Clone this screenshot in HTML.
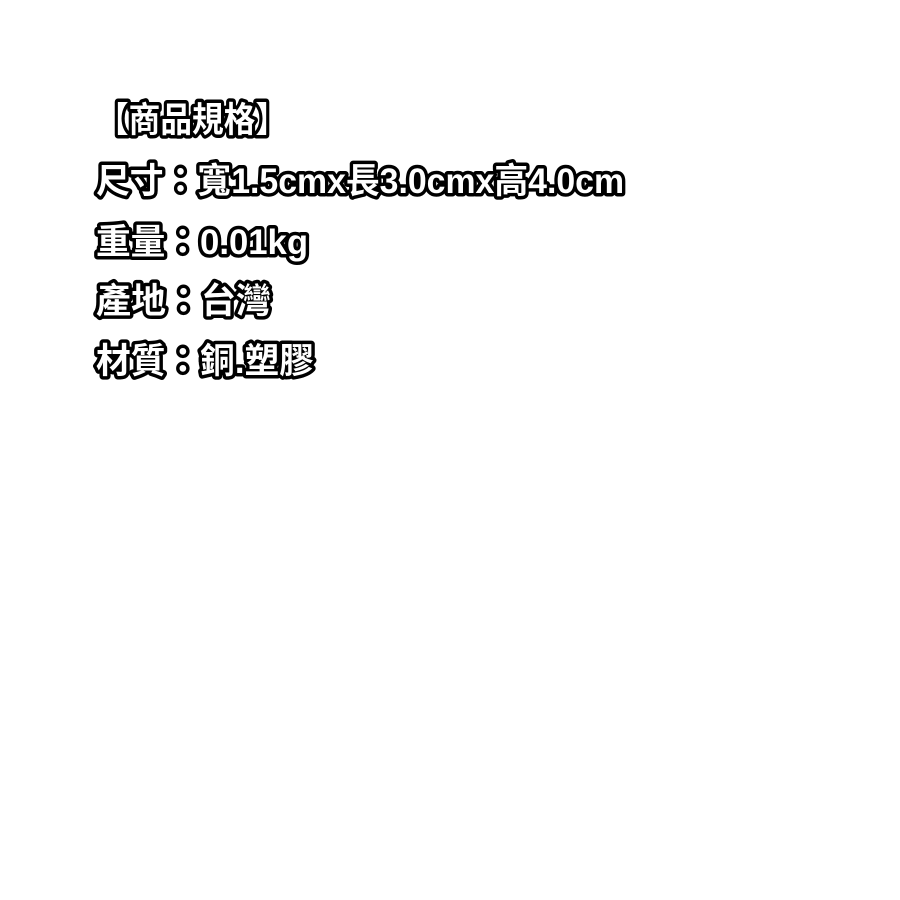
<!DOCTYPE html>
<html><head><meta charset="utf-8"><style>
html,body{margin:0;padding:0;background:#fff;}
svg{display:block}
text{font-family:"Liberation Sans","Noto Sans CJK TC",sans-serif;font-weight:bold;font-size:35px;fill:#fff;stroke:#000;stroke-width:7px;stroke-linejoin:round;paint-order:stroke fill;}
</style></head><body>
<svg width="900" height="900" viewBox="0 0 900 900">
<text x="97" y="132" textLength="190" lengthAdjust="spacingAndGlyphs">【商品規格】</text>
<text x="96" y="193" textLength="528" lengthAdjust="spacingAndGlyphs">尺寸：寬1.5cmx長3.0cmx高4.0cm</text>
<text x="96" y="254" textLength="212" lengthAdjust="spacingAndGlyphs">重量：0.01kg</text>
<text x="96" y="313" textLength="175" lengthAdjust="spacingAndGlyphs">產地：台灣</text>
<text x="96" y="373" textLength="218" lengthAdjust="spacingAndGlyphs">材質：銅.塑膠</text>
</svg>
</body></html>
